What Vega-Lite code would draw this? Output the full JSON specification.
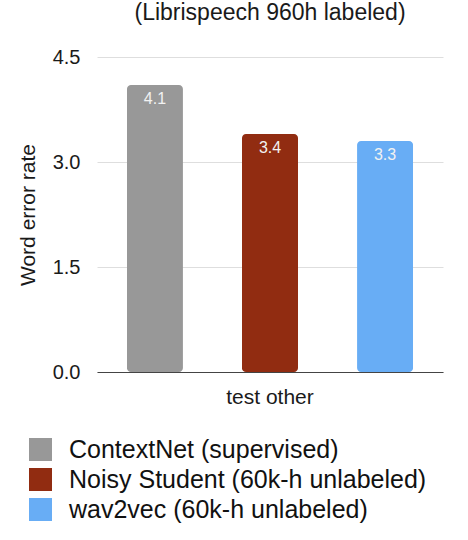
{
  "$schema": "https://vega.github.io/schema/vega-lite/v6.json",
  "width": 346,
  "height": 315,
  "autosize": "none",
  "padding": {"left": 97, "top": 57, "right": 25, "bottom": 168},
  "background": "#ffffff",
  "title": {
    "text": "(Librispeech 960h labeled)",
    "fontSize": 23,
    "fontWeight": "normal",
    "font": "Liberation Sans",
    "color": "#1a1a1a",
    "anchor": "middle",
    "frame": "group",
    "offset": 22
  },
  "data": {
    "values": [
      {"split": "test other", "model": "ContextNet (supervised)", "wer": 4.1},
      {"split": "test other", "model": "Noisy Student (60k-h unlabeled)", "wer": 3.4},
      {"split": "test other", "model": "wav2vec (60k-h unlabeled)", "wer": 3.3}
    ]
  },
  "encoding": {
    "x": {
      "field": "split",
      "type": "nominal",
      "scale": {"paddingInner": 0, "paddingOuter": 0},
      "axis": {
        "title": null,
        "labelAngle": 0,
        "labelFontSize": 21,
        "labelColor": "#1a1a1a",
        "labelPadding": 14,
        "ticks": false,
        "domain": true,
        "domainColor": "#444444",
        "domainWidth": 1
      }
    },
    "xOffset": {
      "field": "model",
      "type": "nominal",
      "sort": null,
      "scale": {"paddingInner": 0.513, "paddingOuter": 0.26}
    },
    "y": {
      "field": "wer",
      "type": "quantitative",
      "scale": {"domain": [0, 4.5], "nice": false},
      "axis": {
        "title": "Word error rate",
        "titleFontSize": 21,
        "titleFontWeight": "normal",
        "titleColor": "#1a1a1a",
        "titlePadding": 14,
        "values": [0, 1.5, 3, 4.5],
        "format": ".1f",
        "labelFontSize": 20,
        "labelColor": "#1a1a1a",
        "labelPadding": 17,
        "ticks": false,
        "domain": false,
        "grid": true,
        "gridColor": "#dedede",
        "gridWidth": 1
      }
    }
  },
  "layer": [
    {
      "mark": {"type": "bar", "cornerRadius": 4},
      "encoding": {
        "color": {
          "field": "model",
          "type": "nominal",
          "sort": null,
          "scale": {
            "domain": ["ContextNet (supervised)", "Noisy Student (60k-h unlabeled)", "wav2vec (60k-h unlabeled)"],
            "range": ["#989898", "#912c11", "#68adf5"]
          },
          "legend": {
            "title": null,
            "orient": "none",
            "legendX": -69,
            "legendY": 380,
            "direction": "vertical",
            "symbolType": "square",
            "symbolSize": 529,
            "symbolStrokeWidth": 0,
            "symbolOpacity": 1,
            "labelFontSize": 25,
            "labelColor": "#111111",
            "labelOffset": 16,
            "labelLimit": 0,
            "rowPadding": 4,
            "padding": 0
          }
        }
      }
    },
    {
      "mark": {"type": "text", "baseline": "top", "dy": 6, "fontSize": 16, "color": "#f2f2f2"},
      "encoding": {
        "text": {"field": "wer", "type": "quantitative", "format": ".1f"}
      }
    }
  ],
  "config": {
    "font": "Liberation Sans",
    "view": {"stroke": null}
  }
}
